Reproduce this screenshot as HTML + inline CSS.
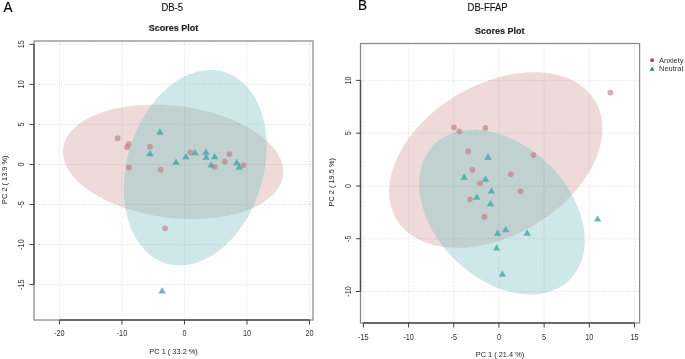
<!DOCTYPE html>
<html><head><meta charset="utf-8"><style>
html,body{margin:0;padding:0;background:#fff;}
svg{display:block;}
#w{width:685px;height:359px;overflow:hidden;}
</style></head><body><div id="w">
<svg width="685" height="359" viewBox="0 0 685 359" font-family="Liberation Sans, sans-serif">
<defs><filter id="bl" x="-1%" y="-1%" width="102%" height="102%"><feGaussianBlur stdDeviation="0.6"/></filter></defs>
<g filter="url(#bl)">
<rect width="685" height="359" fill="#fff"/>
<clipPath id="clip34"><ellipse cx="173.06" cy="161.84" rx="110.80" ry="56.00" transform="rotate(-172.995 173.06 161.84)"/></clipPath>
<ellipse cx="173.06" cy="161.84" rx="110.80" ry="56.00" transform="rotate(-172.995 173.06 161.84)" fill="#eedad9"/>
<ellipse cx="195.22" cy="167.71" rx="100.08" ry="68.13" transform="rotate(106.977 195.22 167.71)" fill="#cee8e9"/>
<g clip-path="url(#clip34)"><ellipse cx="195.22" cy="167.71" rx="100.08" ry="68.13" transform="rotate(106.977 195.22 167.71)" fill="#c1d1d0"/></g>
<line x1="59.40" y1="41" x2="59.40" y2="320" stroke="#000" stroke-opacity="0.2" stroke-width="0.6" stroke-dasharray="1 1.5"/>
<line x1="121.92" y1="41" x2="121.92" y2="320" stroke="#000" stroke-opacity="0.2" stroke-width="0.6" stroke-dasharray="1 1.5"/>
<line x1="184.45" y1="41" x2="184.45" y2="320" stroke="#000" stroke-opacity="0.2" stroke-width="0.6" stroke-dasharray="1 1.5"/>
<line x1="246.97" y1="41" x2="246.97" y2="320" stroke="#000" stroke-opacity="0.2" stroke-width="0.6" stroke-dasharray="1 1.5"/>
<line x1="309.50" y1="41" x2="309.50" y2="320" stroke="#000" stroke-opacity="0.2" stroke-width="0.6" stroke-dasharray="1 1.5"/>
<line x1="34" y1="44.30" x2="313" y2="44.30" stroke="#000" stroke-opacity="0.2" stroke-width="0.6" stroke-dasharray="1 1.5"/>
<line x1="34" y1="84.35" x2="313" y2="84.35" stroke="#000" stroke-opacity="0.2" stroke-width="0.6" stroke-dasharray="1 1.5"/>
<line x1="34" y1="124.40" x2="313" y2="124.40" stroke="#000" stroke-opacity="0.2" stroke-width="0.6" stroke-dasharray="1 1.5"/>
<line x1="34" y1="164.45" x2="313" y2="164.45" stroke="#000" stroke-opacity="0.2" stroke-width="0.6" stroke-dasharray="1 1.5"/>
<line x1="34" y1="204.50" x2="313" y2="204.50" stroke="#000" stroke-opacity="0.2" stroke-width="0.6" stroke-dasharray="1 1.5"/>
<line x1="34" y1="244.55" x2="313" y2="244.55" stroke="#000" stroke-opacity="0.2" stroke-width="0.6" stroke-dasharray="1 1.5"/>
<line x1="34" y1="284.60" x2="313" y2="284.60" stroke="#000" stroke-opacity="0.2" stroke-width="0.6" stroke-dasharray="1 1.5"/>
<circle cx="117.6" cy="138.2" r="2.9" fill="#bf7373" fill-opacity="0.58"/>
<circle cx="128.7" cy="144.0" r="2.9" fill="#bf7373" fill-opacity="0.58"/>
<circle cx="127.1" cy="147.2" r="2.9" fill="#bf7373" fill-opacity="0.58"/>
<circle cx="150.0" cy="146.8" r="2.9" fill="#bf7373" fill-opacity="0.58"/>
<circle cx="128.9" cy="167.5" r="2.9" fill="#bf7373" fill-opacity="0.58"/>
<circle cx="160.7" cy="169.8" r="2.9" fill="#bf7373" fill-opacity="0.58"/>
<circle cx="165.1" cy="228.3" r="2.9" fill="#bf7373" fill-opacity="0.58"/>
<circle cx="190.5" cy="152.5" r="2.9" fill="#bf7373" fill-opacity="0.58"/>
<circle cx="229.4" cy="154.1" r="2.9" fill="#bf7373" fill-opacity="0.58"/>
<circle cx="224.8" cy="161.7" r="2.9" fill="#bf7373" fill-opacity="0.58"/>
<circle cx="214.6" cy="166.8" r="2.9" fill="#bf7373" fill-opacity="0.58"/>
<circle cx="243.5" cy="165.2" r="2.9" fill="#bf7373" fill-opacity="0.58"/>
<polygon points="159.90,128.35 163.54,134.65 156.26,134.65" fill="#40a8a8" fill-opacity="0.8"/>
<polygon points="150.00,149.85 153.64,156.15 146.36,156.15" fill="#40a8a8" fill-opacity="0.8"/>
<polygon points="176.00,158.55 179.64,164.85 172.36,164.85" fill="#40a8a8" fill-opacity="0.8"/>
<polygon points="185.90,152.95 189.54,159.25 182.26,159.25" fill="#40a8a8" fill-opacity="0.8"/>
<polygon points="195.10,149.05 198.74,155.35 191.46,155.35" fill="#40a8a8" fill-opacity="0.8"/>
<polygon points="205.90,148.35 209.54,154.65 202.26,154.65" fill="#40a8a8" fill-opacity="0.8"/>
<polygon points="206.10,153.45 209.74,159.75 202.46,159.75" fill="#40a8a8" fill-opacity="0.8"/>
<polygon points="214.60,152.95 218.24,159.25 210.96,159.25" fill="#40a8a8" fill-opacity="0.8"/>
<polygon points="211.20,161.25 214.84,167.55 207.56,167.55" fill="#40a8a8" fill-opacity="0.8"/>
<polygon points="236.70,158.85 240.34,165.15 233.06,165.15" fill="#40a8a8" fill-opacity="0.8"/>
<polygon points="239.20,163.35 242.84,169.65 235.56,169.65" fill="#40a8a8" fill-opacity="0.8"/>
<polygon points="162.10,287.25 165.74,293.55 158.46,293.55" fill="#40a8a8" fill-opacity="0.8"/>
<rect x="34" y="41" width="279" height="279" fill="none" stroke="#8a8a8a" stroke-width="1.25"/>
<line x1="59.40" y1="320" x2="309.50" y2="320" stroke="#505050" stroke-width="1.4"/>
<line x1="34" y1="44.30" x2="34" y2="284.60" stroke="#505050" stroke-width="1.4"/>
<line x1="59.40" y1="320" x2="59.40" y2="324.5" stroke="#404040" stroke-width="1.0"/>
<text x="0" y="0" transform="translate(59.40 336.4) scale(0.88 1)" font-size="8.3" text-anchor="middle" fill="#333">-20</text>
<line x1="121.92" y1="320" x2="121.92" y2="324.5" stroke="#404040" stroke-width="1.0"/>
<text x="0" y="0" transform="translate(121.92 336.4) scale(0.88 1)" font-size="8.3" text-anchor="middle" fill="#333">-10</text>
<line x1="184.45" y1="320" x2="184.45" y2="324.5" stroke="#404040" stroke-width="1.0"/>
<text x="0" y="0" transform="translate(184.45 336.4) scale(0.88 1)" font-size="8.3" text-anchor="middle" fill="#333">0</text>
<line x1="246.97" y1="320" x2="246.97" y2="324.5" stroke="#404040" stroke-width="1.0"/>
<text x="0" y="0" transform="translate(246.97 336.4) scale(0.88 1)" font-size="8.3" text-anchor="middle" fill="#333">10</text>
<line x1="309.50" y1="320" x2="309.50" y2="324.5" stroke="#404040" stroke-width="1.0"/>
<text x="0" y="0" transform="translate(309.50 336.4) scale(0.88 1)" font-size="8.3" text-anchor="middle" fill="#333">20</text>
<line x1="29.5" y1="44.30" x2="34" y2="44.30" stroke="#404040" stroke-width="1.0"/>
<text x="0" y="0" transform="translate(24.3 44.30) rotate(-90) scale(0.88 1)" font-size="8.3" text-anchor="middle" fill="#333">15</text>
<line x1="29.5" y1="84.35" x2="34" y2="84.35" stroke="#404040" stroke-width="1.0"/>
<text x="0" y="0" transform="translate(24.3 84.35) rotate(-90) scale(0.88 1)" font-size="8.3" text-anchor="middle" fill="#333">10</text>
<line x1="29.5" y1="124.40" x2="34" y2="124.40" stroke="#404040" stroke-width="1.0"/>
<text x="0" y="0" transform="translate(24.3 124.40) rotate(-90) scale(0.88 1)" font-size="8.3" text-anchor="middle" fill="#333">5</text>
<line x1="29.5" y1="164.45" x2="34" y2="164.45" stroke="#404040" stroke-width="1.0"/>
<text x="0" y="0" transform="translate(24.3 164.45) rotate(-90) scale(0.88 1)" font-size="8.3" text-anchor="middle" fill="#333">0</text>
<line x1="29.5" y1="204.50" x2="34" y2="204.50" stroke="#404040" stroke-width="1.0"/>
<text x="0" y="0" transform="translate(24.3 204.50) rotate(-90) scale(0.88 1)" font-size="8.3" text-anchor="middle" fill="#333">-5</text>
<line x1="29.5" y1="244.55" x2="34" y2="244.55" stroke="#404040" stroke-width="1.0"/>
<text x="0" y="0" transform="translate(24.3 244.55) rotate(-90) scale(0.88 1)" font-size="8.3" text-anchor="middle" fill="#333">-10</text>
<line x1="29.5" y1="284.60" x2="34" y2="284.60" stroke="#404040" stroke-width="1.0"/>
<text x="0" y="0" transform="translate(24.3 284.60) rotate(-90) scale(0.88 1)" font-size="8.3" text-anchor="middle" fill="#333">-15</text>
<text x="0" y="0" transform="translate(172.2 10.8) scale(0.94 1)" font-size="10.1" text-anchor="middle" fill="#111" stroke="#111" stroke-width="0.12">DB-5</text>
<text x="173.4" y="31" font-size="9" font-weight="bold" text-anchor="middle" fill="#222" stroke="#222" stroke-width="0.15">Scores Plot</text>
<text x="173.6" y="353.6" font-size="7.4" text-anchor="middle" fill="#222">PC 1 ( 33.2 %)</text>
<text x="0" y="0" transform="translate(7.2 179.7) rotate(-90)" font-size="7.4" text-anchor="middle" fill="#222">PC 2 ( 13.9 %)</text>
<clipPath id="clip360"><ellipse cx="495.75" cy="160.04" rx="115.74" ry="75.57" transform="rotate(149.299 495.75 160.04)"/></clipPath>
<ellipse cx="495.75" cy="160.04" rx="115.74" ry="75.57" transform="rotate(149.299 495.75 160.04)" fill="#eedad9"/>
<ellipse cx="501.96" cy="212.17" rx="95.74" ry="66.91" transform="rotate(-135.546 501.96 212.17)" fill="#cee8e9"/>
<g clip-path="url(#clip360)"><ellipse cx="501.96" cy="212.17" rx="95.74" ry="66.91" transform="rotate(-135.546 501.96 212.17)" fill="#c1d1d0"/></g>
<line x1="363.39" y1="43.5" x2="363.39" y2="323.0" stroke="#000" stroke-opacity="0.2" stroke-width="0.6" stroke-dasharray="1 1.5"/>
<line x1="408.58" y1="43.5" x2="408.58" y2="323.0" stroke="#000" stroke-opacity="0.2" stroke-width="0.6" stroke-dasharray="1 1.5"/>
<line x1="453.76" y1="43.5" x2="453.76" y2="323.0" stroke="#000" stroke-opacity="0.2" stroke-width="0.6" stroke-dasharray="1 1.5"/>
<line x1="498.95" y1="43.5" x2="498.95" y2="323.0" stroke="#000" stroke-opacity="0.2" stroke-width="0.6" stroke-dasharray="1 1.5"/>
<line x1="544.13" y1="43.5" x2="544.13" y2="323.0" stroke="#000" stroke-opacity="0.2" stroke-width="0.6" stroke-dasharray="1 1.5"/>
<line x1="589.32" y1="43.5" x2="589.32" y2="323.0" stroke="#000" stroke-opacity="0.2" stroke-width="0.6" stroke-dasharray="1 1.5"/>
<line x1="634.50" y1="43.5" x2="634.50" y2="323.0" stroke="#000" stroke-opacity="0.2" stroke-width="0.6" stroke-dasharray="1 1.5"/>
<line x1="360.5" y1="80.40" x2="639.6" y2="80.40" stroke="#000" stroke-opacity="0.2" stroke-width="0.6" stroke-dasharray="1 1.5"/>
<line x1="360.5" y1="133.17" x2="639.6" y2="133.17" stroke="#000" stroke-opacity="0.2" stroke-width="0.6" stroke-dasharray="1 1.5"/>
<line x1="360.5" y1="185.95" x2="639.6" y2="185.95" stroke="#000" stroke-opacity="0.2" stroke-width="0.6" stroke-dasharray="1 1.5"/>
<line x1="360.5" y1="238.72" x2="639.6" y2="238.72" stroke="#000" stroke-opacity="0.2" stroke-width="0.6" stroke-dasharray="1 1.5"/>
<line x1="360.5" y1="291.50" x2="639.6" y2="291.50" stroke="#000" stroke-opacity="0.2" stroke-width="0.6" stroke-dasharray="1 1.5"/>
<circle cx="454.0" cy="127.3" r="2.9" fill="#bf7373" fill-opacity="0.58"/>
<circle cx="459.4" cy="131.3" r="2.9" fill="#bf7373" fill-opacity="0.58"/>
<circle cx="485.4" cy="127.9" r="2.9" fill="#bf7373" fill-opacity="0.58"/>
<circle cx="468.2" cy="151.4" r="2.9" fill="#bf7373" fill-opacity="0.58"/>
<circle cx="472.4" cy="169.8" r="2.9" fill="#bf7373" fill-opacity="0.58"/>
<circle cx="480.1" cy="183.4" r="2.9" fill="#bf7373" fill-opacity="0.58"/>
<circle cx="469.9" cy="199.3" r="2.9" fill="#bf7373" fill-opacity="0.58"/>
<circle cx="484.5" cy="216.8" r="2.9" fill="#bf7373" fill-opacity="0.58"/>
<circle cx="510.8" cy="174.3" r="2.9" fill="#bf7373" fill-opacity="0.58"/>
<circle cx="520.5" cy="191.3" r="2.9" fill="#bf7373" fill-opacity="0.58"/>
<circle cx="533.4" cy="155.1" r="2.9" fill="#bf7373" fill-opacity="0.58"/>
<circle cx="610.4" cy="92.6" r="2.9" fill="#bf7373" fill-opacity="0.58"/>
<polygon points="488.00,153.55 491.64,159.85 484.36,159.85" fill="#40a8a8" fill-opacity="0.8"/>
<polygon points="464.20,173.35 467.84,179.65 460.56,179.65" fill="#40a8a8" fill-opacity="0.8"/>
<polygon points="485.50,175.55 489.14,181.85 481.86,181.85" fill="#40a8a8" fill-opacity="0.8"/>
<polygon points="491.50,187.15 495.14,193.45 487.86,193.45" fill="#40a8a8" fill-opacity="0.8"/>
<polygon points="476.80,193.55 480.44,199.85 473.16,199.85" fill="#40a8a8" fill-opacity="0.8"/>
<polygon points="490.50,199.95 494.14,206.25 486.86,206.25" fill="#40a8a8" fill-opacity="0.8"/>
<polygon points="497.60,229.45 501.24,235.75 493.96,235.75" fill="#40a8a8" fill-opacity="0.8"/>
<polygon points="505.70,225.95 509.34,232.25 502.06,232.25" fill="#40a8a8" fill-opacity="0.8"/>
<polygon points="527.10,229.35 530.74,235.65 523.46,235.65" fill="#40a8a8" fill-opacity="0.8"/>
<polygon points="496.60,244.25 500.24,250.55 492.96,250.55" fill="#40a8a8" fill-opacity="0.8"/>
<polygon points="502.40,270.55 506.04,276.85 498.76,276.85" fill="#40a8a8" fill-opacity="0.8"/>
<polygon points="597.60,215.15 601.24,221.45 593.96,221.45" fill="#40a8a8" fill-opacity="0.8"/>
<rect x="360.5" y="43.5" width="279.1" height="279.5" fill="none" stroke="#8a8a8a" stroke-width="1.25"/>
<line x1="363.39" y1="323.0" x2="634.50" y2="323.0" stroke="#505050" stroke-width="1.4"/>
<line x1="360.5" y1="80.40" x2="360.5" y2="291.50" stroke="#505050" stroke-width="1.4"/>
<line x1="363.39" y1="323.0" x2="363.39" y2="327.5" stroke="#404040" stroke-width="1.0"/>
<text x="0" y="0" transform="translate(363.39 339.6) scale(0.88 1)" font-size="8.3" text-anchor="middle" fill="#333">-15</text>
<line x1="408.58" y1="323.0" x2="408.58" y2="327.5" stroke="#404040" stroke-width="1.0"/>
<text x="0" y="0" transform="translate(408.58 339.6) scale(0.88 1)" font-size="8.3" text-anchor="middle" fill="#333">-10</text>
<line x1="453.76" y1="323.0" x2="453.76" y2="327.5" stroke="#404040" stroke-width="1.0"/>
<text x="0" y="0" transform="translate(453.76 339.6) scale(0.88 1)" font-size="8.3" text-anchor="middle" fill="#333">-5</text>
<line x1="498.95" y1="323.0" x2="498.95" y2="327.5" stroke="#404040" stroke-width="1.0"/>
<text x="0" y="0" transform="translate(498.95 339.6) scale(0.88 1)" font-size="8.3" text-anchor="middle" fill="#333">0</text>
<line x1="544.13" y1="323.0" x2="544.13" y2="327.5" stroke="#404040" stroke-width="1.0"/>
<text x="0" y="0" transform="translate(544.13 339.6) scale(0.88 1)" font-size="8.3" text-anchor="middle" fill="#333">5</text>
<line x1="589.32" y1="323.0" x2="589.32" y2="327.5" stroke="#404040" stroke-width="1.0"/>
<text x="0" y="0" transform="translate(589.32 339.6) scale(0.88 1)" font-size="8.3" text-anchor="middle" fill="#333">10</text>
<line x1="634.50" y1="323.0" x2="634.50" y2="327.5" stroke="#404040" stroke-width="1.0"/>
<text x="0" y="0" transform="translate(634.50 339.6) scale(0.88 1)" font-size="8.3" text-anchor="middle" fill="#333">15</text>
<line x1="356.0" y1="80.40" x2="360.5" y2="80.40" stroke="#404040" stroke-width="1.0"/>
<text x="0" y="0" transform="translate(350.9 80.40) rotate(-90) scale(0.88 1)" font-size="8.3" text-anchor="middle" fill="#333">10</text>
<line x1="356.0" y1="133.17" x2="360.5" y2="133.17" stroke="#404040" stroke-width="1.0"/>
<text x="0" y="0" transform="translate(350.9 133.17) rotate(-90) scale(0.88 1)" font-size="8.3" text-anchor="middle" fill="#333">5</text>
<line x1="356.0" y1="185.95" x2="360.5" y2="185.95" stroke="#404040" stroke-width="1.0"/>
<text x="0" y="0" transform="translate(350.9 185.95) rotate(-90) scale(0.88 1)" font-size="8.3" text-anchor="middle" fill="#333">0</text>
<line x1="356.0" y1="238.72" x2="360.5" y2="238.72" stroke="#404040" stroke-width="1.0"/>
<text x="0" y="0" transform="translate(350.9 238.72) rotate(-90) scale(0.88 1)" font-size="8.3" text-anchor="middle" fill="#333">-5</text>
<line x1="356.0" y1="291.50" x2="360.5" y2="291.50" stroke="#404040" stroke-width="1.0"/>
<text x="0" y="0" transform="translate(350.9 291.50) rotate(-90) scale(0.88 1)" font-size="8.3" text-anchor="middle" fill="#333">-10</text>
<text x="0" y="0" transform="translate(487.6 10.6) scale(0.94 1)" font-size="10.1" text-anchor="middle" fill="#111" stroke="#111" stroke-width="0.12">DB-FFAP</text>
<text x="499.8" y="34.3" font-size="9" font-weight="bold" text-anchor="middle" fill="#222" stroke="#222" stroke-width="0.15">Scores Plot</text>
<text x="500" y="356.6" font-size="7.4" text-anchor="middle" fill="#222">PC 1 ( 21.4 %)</text>
<text x="0" y="0" transform="translate(334.4 182.3) rotate(-90)" font-size="7.4" text-anchor="middle" fill="#222">PC 2 ( 19.5 %)</text>
<text x="0" y="0" transform="translate(3.5 11.8) scale(0.94 1)" font-size="14.4" fill="#000" stroke="#000" stroke-width="0.2">A</text>
<text x="0" y="0" transform="translate(357.9 9.6) scale(0.94 1)" font-size="14.4" fill="#000" stroke="#000" stroke-width="0.2">B</text>
<circle cx="652.1" cy="60.2" r="2.0" fill="#a84d60"/>
<polygon points="652.10,66.42 654.61,70.77 649.59,70.77" fill="#22877a" fill-opacity="1"/>
<text x="659" y="63.2" font-size="7.5" fill="#333">Anxiety</text>
<text x="659" y="71.3" font-size="7.5" fill="#333">Neutral</text>
</g>
</svg></div></body></html>
